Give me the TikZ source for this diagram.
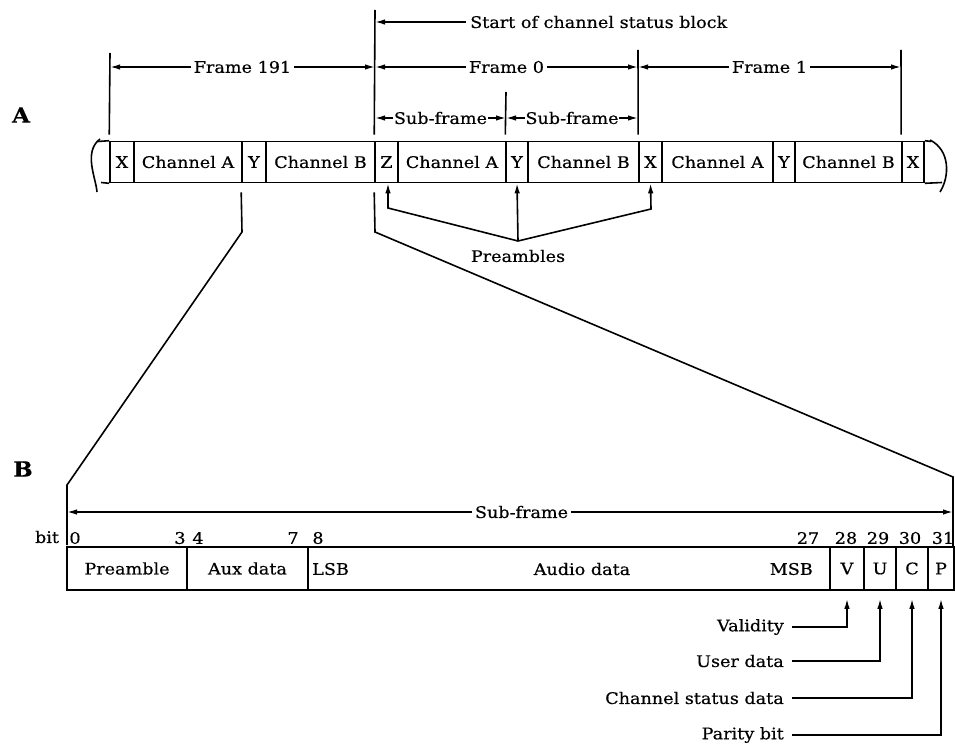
\documentclass[tikz,border=0pt]{standalone}
\usepackage{fontspec}
\setmainfont{DejaVu Serif}[FakeStretch=1.1,FakeBold=0.4]
\usetikzlibrary{arrows.meta,calc}
\begin{document}
\begin{tikzpicture}[x=1pt,y=-1pt,
  every node/.style={font=\fontsize{16}{19}\selectfont},
  ln/.style={line width=1.6pt},
  cella/.style={draw, line width=1.6pt, minimum height=41pt, inner sep=0pt},
  cellb/.style={draw, line width=1.6pt, minimum height=43pt, inner sep=0pt},
  arr/.style={line width=1.6pt, -{Latex[length=10pt,width=5.5pt]}},
  dim/.style={line width=1.6pt, {Latex[length=10pt,width=5.5pt]}-{Latex[length=10pt,width=5.5pt]}},
  lbl/.style={fill=white, inner sep=3pt},
  txt/.style={inner sep=0pt},
  big/.style={font=\fontsize{21}{24}\selectfont\bfseries}
]
\useasboundingbox (0,0) rectangle (955,746);

% labels A, B
\node[big] (labA) at (21,115) {A};
\node[big] (labB) at (23,469) {B};

% Row A cells
\node[cella, minimum width=24pt] (X1) at (122,162) {X};
\node[cella, minimum width=108pt] (CA1) at (188,162) {Channel A};
\node[cella, minimum width=24pt] (Y1) at (254,162) {Y};
\node[cella, minimum width=109pt] (CB1) at (320.5,162) {Channel B};
\node[cella, minimum width=23pt] (Z) at (386.5,162) {Z};
\node[cella, minimum width=108pt] (CA2) at (452,162) {Channel A};
\node[cella, minimum width=22pt] (Y2) at (517,162) {Y};
\node[cella, minimum width=111pt] (CB2) at (583.5,162) {Channel B};
\node[cella, minimum width=23pt] (X2) at (650.5,162) {X};
\node[cella, minimum width=111pt] (CA3) at (717.5,162) {Channel A};
\node[cella, minimum width=22pt] (Y3) at (784,162) {Y};
\node[cella, minimum width=107pt] (CB3) at (848.5,162) {Channel B};
\node[cella, minimum width=22pt] (X3) at (913,162) {X};

% torn ends of the row
\draw[ln] (X1.north west) -- (98,141.5);
\draw[ln] (X1.south west) -- (101,182.5);
\draw[ln] (X3.north east) -- (931,141.5);
\draw[ln] (X3.south east) -- (942,182.5);
\draw[ln] (100,139) .. controls (83,152) and (96,178) .. (97,192);
\draw[ln] (930,140) .. controls (950,150) and (950,176) .. (940,192);

% extension lines
\coordinate (e110) at (110,53);
\coordinate (e375) at (375,10);
\coordinate (e506) at (506,92);
\coordinate (e638) at (638,50);
\coordinate (e901) at (901,50);
\draw[ln, shorten >=6pt] (e110) -- (X1.north west);
\draw[ln, shorten >=6pt] (e375) -- (Z.north west);
\draw[ln, shorten >=6pt] (e506) -- (Y2.north west);
\draw[ln, shorten >=6pt] (e638) -- (X2.north west);
\draw[ln, shorten >=6pt] (e901) -- (X3.north west);

% start of channel status block
\node[txt, anchor=west] (start) at (470,22) {Start of channel status block};
\draw[arr] ($(start.west)+(-4,0)$) -- (e375 |- start.west);

% frame dimensions
\coordinate (f191l) at (110,67);
\coordinate (f191r) at (375,67);
\coordinate (f1r) at (901,67);
\coordinate (f0r) at (638,67);
\draw[dim] (f191l) -- node[lbl] (fr191) {Frame 191} (f191r);
\draw[dim] (f191r) -- node[lbl] (fr0) {Frame 0} (f0r);
\draw[dim] (f0r) -- node[lbl] (fr1) {Frame 1} (f1r);

% sub-frame dimensions
\coordinate (s0) at (375,118);
\coordinate (s1) at (506,118);
\coordinate (s2) at (638,118);
\draw[dim] (s0) -- node[lbl, inner sep=0.5pt] (sf1) {Sub-frame} (s1);
\draw[dim] (s1) -- node[lbl, inner sep=0.5pt] (sf2) {Sub-frame} (s2);

% preambles
\node[txt] (pre) at (518,256) {Preambles};
\coordinate (pj) at (518,241);
\draw[arr] (pj) -- (388,208) -- (Z.south -| 388,0);
\draw[arr] (pj) -- (Y2.south);
\draw[arr] (pj) -- (651,209) -- (X2.south);

% zoom lines
\draw[ln] ($(Y1.south west)+(0,9)$) -- (242,232) -- (67,485) -- (67,545);
\draw[ln] ($(Z.south west)+(0,9)$) -- (375,232) -- (953,477) -- (953,547);

% Row B cells
\node[cellb, minimum width=120pt] (Pre) at (127,568.5) {Preamble};
\node[cellb, minimum width=121pt] (Aux) at (247.5,568.5) {Aux data};
\node[cellb, minimum width=522pt] (Aud) at (569,568.5) {};
\node[cellb, minimum width=34pt] (V) at (847,568.5) {V};
\node[cellb, minimum width=32pt] (U) at (880,568.5) {U};
\node[cellb, minimum width=32pt] (C) at (912,568.5) {C};
\node[cellb, minimum width=26pt] (P) at (941,568.5) {P};
\node[txt, anchor=west] (lsb) at (312,569) {LSB};
\node[txt] (aud) at (582,569) {Audio data};
\node[txt, anchor=east] (msb) at (813,569) {MSB};

% sub-frame arrow B
\coordinate (bl) at (67,512);
\coordinate (br) at (953,512);
\draw[dim] (bl) -- node[lbl, pos=0.513] (sfb) {Sub-frame} (br);

% bit numbers
\node[txt] (bit) at (47,537) {bit};
\node[txt] (b0) at (75,538) {0};
\node[txt] (b3) at (180,538) {3};
\node[txt] (b4) at (198,538) {4};
\node[txt] (b7) at (293,538) {7};
\node[txt] (b8) at (318,538) {8};
\node[txt] (b27) at (808,538) {27};
\node[txt] (b28) at (846,538) {28};
\node[txt] (b29) at (878,538) {29};
\node[txt] (b30) at (910,538) {30};
\node[txt] (b31) at (943,538) {31};

% bottom annotations
\node[txt, anchor=east] (val) at (784,627) {Validity};
\node[txt, anchor=east] (usr) at (784,661) {User data};
\node[txt, anchor=east] (chs) at (784,698) {Channel status data};
\node[txt, anchor=east] (par) at (784,735) {Parity bit};
\draw[arr, shorten >=8pt] ($(val.east)+(8,0)$) -- (V.south |- val.east) -- (V.south);
\draw[arr, shorten >=8pt] ($(usr.east)+(8,0)$) -- (U.south |- usr.east) -- (U.south);
\draw[arr, shorten >=8pt] ($(chs.east)+(8,0)$) -- (C.south |- chs.east) -- (C.south);
\draw[arr, shorten >=8pt] ($(par.east)+(8,0)$) -- (P.south |- par.east) -- (P.south);
\end{tikzpicture}
\end{document}
